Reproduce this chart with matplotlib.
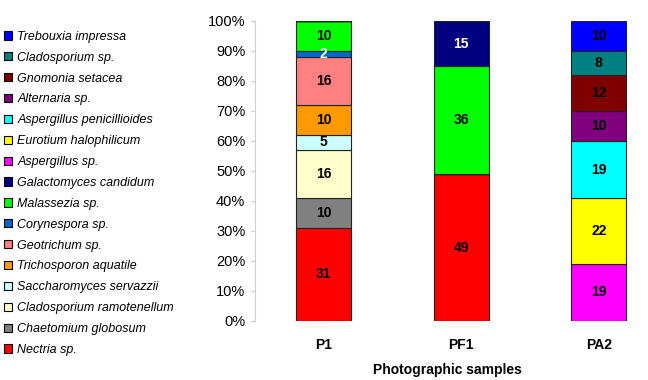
import matplotlib
matplotlib.use("Agg")
import matplotlib.pyplot as plt
from matplotlib.patches import Patch
import numpy as np

plt.rcParams['font.family'] = ['Liberation Sans', 'DejaVu Sans']

samples = ["P1", "PF1", "PA2"]
species = ["Nectria sp.", "Chaetomium globosum", "Cladosporium ramotenellum",
           "Saccharomyces servazzii", "Trichosporon aquatile", "Geotrichum sp.",
           "Corynespora sp.", "Malassezia sp.", "Galactomyces candidum",
           "Aspergillus sp.", "Eurotium halophilicum", "Aspergillus penicillioides",
           "Alternaria sp.", "Gnomonia setacea", "Cladosporium sp.", "Trebouxia impressa"]
colors = ["#FF0000", "#808080", "#FFFFCC", "#CCFFFF", "#FF9900", "#FF8080",
          "#0066CC", "#00FF00", "#000080", "#FF00FF", "#FFFF00", "#00FFFF",
          "#800080", "#800000", "#008080", "#0000FF"]
# percentages per species for P1, PF1, PA2
p1 = [31, 10, 16, 5, 10, 16, 2, 10, 0, 0, 0, 0, 0, 0, 0, 0]
pf1 = [49, 0, 0, 0, 0, 0, 0, 36, 15, 0, 0, 0, 0, 0, 0, 0]
pa2 = [0, 0, 0, 0, 0, 0, 0, 0, 0, 19, 22, 19, 10, 12, 8, 10]
white_text = {"Corynespora sp.", "Galactomyces candidum"}

data = np.array([p1, pf1, pa2])  # samples x species

fig = plt.figure(figsize=(6.48, 3.80), dpi=100)
ax = fig.add_axes([255 / 648, 1 - 321 / 380, (640 - 255) / 648, 300 / 380])

x = np.arange(len(samples))
bottom = np.zeros(len(samples))
for j, sp in enumerate(species):
    vals = data[:, j]
    ax.bar(x, vals, bottom=bottom, width=0.4, color=colors[j],
           edgecolor="#222222", linewidth=0.8, zorder=2)
    for i in range(len(samples)):
        if vals[i] > 0:
            ax.text(x[i], bottom[i] + vals[i] / 2, str(vals[i]), ha="center",
                    va="center", fontsize=10, fontweight="bold",
                    color="white" if sp in white_text else "black", zorder=3)
    bottom += vals

ax.set_xlim(-0.5, 2.3)
ax.set_ylim(0, 100)
ax.set_yticks(np.arange(0, 101, 10))
ax.set_yticklabels([f"{v}%" for v in range(0, 101, 10)], fontsize=10.5)
ax.set_xticks(x)
ax.set_xticklabels(samples, fontsize=10, fontweight="bold")
ax.tick_params(axis="x", length=0, pad=12)
ax.tick_params(axis="y", length=3, color="#C8C8C8", pad=4)
for s in ["top", "right", "bottom"]:
    ax.spines[s].set_visible(False)
ax.spines["left"].set_color("#D0D0D0")
ax.set_xlabel("Photographic samples", fontsize=10, fontweight="bold", labelpad=8)

handles = [Patch(facecolor=colors[j], edgecolor="black", linewidth=0.8, label=species[j])
           for j in range(len(species))][::-1]
leg = fig.legend(handles=handles, loc="upper left", bbox_to_anchor=(-0.002, 0.932),
                 frameon=False, prop={"style": "italic", "size": 9},
                 handlelength=0.65, handleheight=0.65, handletextpad=0.45,
                 labelspacing=0.71, borderaxespad=0)

fig.savefig("out.png", dpi=100)
